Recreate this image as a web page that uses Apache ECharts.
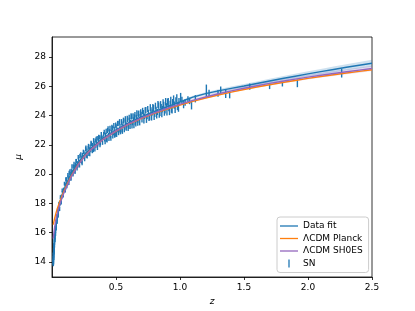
<!DOCTYPE html>
<html><head><meta charset="utf-8">
<script src="https://cdn.jsdelivr.net/npm/echarts@6/dist/echarts.min.js"></script>
<style>html,body{margin:0;padding:0;background:#fff}#c{width:415px;height:311px}</style>
</head><body><div id="c"></div>
<script>
// model grid (redshift)
const zGrid = [0.01,0.015,0.02,0.03,0.04,0.05,0.06,0.07,0.08,0.1,0.12,0.15,0.2,0.25,0.3,0.4,0.5,0.6,0.7,0.8,0.9,1.0,1.1,1.2,1.3,1.4,1.5,1.6,1.7,1.8,1.9,2.0,2.1,2.2,2.3,2.4,2.5];
const fitMu = [13.78,14.78,15.40,16.32,16.97,17.48,17.90,18.25,18.56,19.07,19.50,20.03,20.73,21.27,21.73,22.46,23.03,23.51,23.92,24.28,24.61,24.93,25.26,25.50,25.69,25.86,26.02,26.19,26.36,26.53,26.69,26.85,27.00,27.15,27.30,27.44,27.58];
const fitErr = [0.03,0.03,0.03,0.03,0.03,0.03,0.03,0.03,0.03,0.03,0.03,0.03,0.03,0.03,0.03,0.04,0.04,0.05,0.05,0.06,0.07,0.08,0.09,0.10,0.11,0.12,0.13,0.14,0.15,0.16,0.17,0.18,0.19,0.20,0.21,0.22,0.24];
const planckMu = [16.55,16.75,16.95,17.30,17.60,17.86,18.10,18.33,18.55,18.96,19.34,19.86,20.60,21.18,21.65,22.38,22.94,23.41,23.81,24.15,24.45,24.72,24.97,25.20,25.41,25.60,25.78,25.95,26.11,26.26,26.40,26.54,26.67,26.79,26.91,27.02,27.13];
const sh0esMu = [15.60,15.98,16.33,16.85,17.25,17.60,17.90,18.17,18.42,18.86,19.26,19.81,20.57,21.16,21.64,22.38,22.95,23.43,23.84,24.19,24.50,24.78,25.04,25.27,25.49,25.69,25.87,26.04,26.20,26.35,26.49,26.63,26.76,26.88,27.00,27.11,27.22];
const sh0esErr = [0.02,0.02,0.02,0.02,0.02,0.02,0.02,0.02,0.02,0.02,0.03,0.03,0.03,0.03,0.03,0.04,0.05,0.06,0.07,0.08,0.09,0.10,0.11,0.12,0.12,0.13,0.13,0.14,0.14,0.15,0.15,0.16,0.16,0.17,0.17,0.18,0.18];

// supernovae, first sample
const snZ = [
0.0101,0.0105,0.0112,0.0120,0.0128,0.0135,0.0142,0.0150,0.0158,0.0165,
0.0173,0.0181,0.0190,0.0198,0.0207,0.0215,0.0224,0.0235,0.0246,0.0258,
0.0270,0.0283,0.0296,0.0310,0.0325,0.0340,0.0356,0.0372,0.0390,0.0410,
0.0430,0.0452,0.0475,0.0500,0.0525,0.0552,0.0580,0.0610,0.0640,0.0672,
0.0705,0.0740,0.0778,0.0817,0.0858,0.0900,0.0945,
0.102,0.106,0.110,0.114,0.118,0.122,0.126,0.130,0.134,0.138,
0.142,0.146,0.150,0.154,0.158,0.162,0.166,0.170,0.174,0.178,
0.182,0.186,0.190,0.194,0.198,
0.203,0.208,0.213,0.218,0.223,0.228,0.233,0.238,0.243,0.248,
0.253,0.258,0.263,0.268,0.273,0.278,0.283,0.288,0.293,0.298,
0.303,0.308,0.313,0.318,0.323,0.328,0.333,0.338,0.343,0.348,
0.353,0.358,0.363,0.368,0.373,0.378,0.383,0.388,0.393,0.398,
0.404,0.411,0.419,0.426,0.434,0.441,0.449,0.456,0.464,0.471,
0.479,0.486,0.494,0.501,0.509,0.516,0.524,0.531,0.539,0.546,
0.554,0.561,0.569,0.576,0.584,0.591,0.599,0.606,0.614,0.621,
0.629,0.636,0.644,0.651,0.659,0.666,0.674,0.681,0.689,0.696,
0.703,0.713,0.723,0.733,0.743,0.753,0.763,0.773,0.783,0.793,
0.803,0.813,0.823,0.833,0.843,0.853,0.863,0.873,0.883,0.893,
0.903,0.913,0.923,0.933,0.943,0.955,0.968,0.980,0.992,
1.015,1.040,1.062,1.090,1.206,1.227,1.297,1.318,1.357,1.388,
1.545,1.700,1.800,1.917,2.263];
const snMu = [
13.92,14.21,14.05,14.48,14.40,14.78,14.66,14.98,14.85,15.18,
15.05,15.40,15.30,15.58,15.47,15.74,15.66,15.95,15.86,16.15,
16.08,16.36,16.27,16.55,16.47,16.78,16.70,16.96,16.90,17.18,
17.10,17.41,17.33,17.64,17.55,17.86,17.78,18.08,17.99,18.30,
18.22,18.50,18.45,18.74,18.68,18.97,18.90,
19.27,19.06,19.37,19.65,19.41,19.35,19.80,19.68,20.08,19.71,
20.01,19.72,20.24,20.06,20.20,20.05,20.52,20.24,20.48,20.22,
20.66,20.55,20.89,20.52,20.76,
20.59,21.02,20.85,21.24,20.89,21.14,20.85,21.32,21.18,21.49,
21.15,21.42,21.72,21.24,21.61,21.46,21.80,21.39,21.72,21.90,
21.64,22.07,21.78,21.99,21.65,22.11,21.99,22.29,21.93,22.17,
22.45,22.01,22.35,22.16,22.51,22.10,22.44,22.56,22.31,22.49,
22.72,22.37,22.68,22.37,22.98,22.67,22.92,22.60,22.90,23.14,
22.80,23.08,22.73,23.25,23.02,23.46,23.00,23.27,23.01,23.45,
23.29,23.62,23.20,23.50,23.35,23.71,23.27,23.69,23.54,23.91,
23.50,23.71,23.91,23.52,23.88,23.71,24.10,23.68,23.95,24.08,
23.71,24.20,23.95,24.38,23.94,24.22,23.88,24.38,24.21,24.52,
24.10,24.40,24.25,24.68,24.18,24.59,24.44,24.73,24.38,24.63,
24.92,24.51,24.78,24.43,24.90,24.71,25.02,24.63,24.95,
25.05,24.90,25.12,24.70,25.70,25.55,25.52,25.76,25.48,25.42,
25.98,25.96,26.16,26.20,26.90];
const snErr = [
0.22,0.20,0.19,0.18,0.18,0.17,0.17,0.16,0.16,0.15,
0.15,0.14,0.14,0.14,0.13,0.13,0.13,0.13,0.12,0.12,
0.12,0.12,0.12,0.11,0.11,0.11,0.11,0.11,0.11,0.11,
0.11,0.11,0.11,0.11,0.11,0.11,0.11,0.11,0.11,0.11,
0.11,0.11,0.11,0.11,0.11,0.11,0.11,
0.12,0.13,0.12,0.14,0.12,0.13,0.12,0.13,0.15,0.12,
0.13,0.14,0.12,0.13,0.12,0.14,0.13,0.12,0.13,0.14,
0.12,0.13,0.15,0.12,0.13,
0.13,0.14,0.12,0.15,0.13,0.12,0.14,0.13,0.12,0.14,
0.13,0.12,0.16,0.13,0.14,0.12,0.14,0.15,0.12,0.13,
0.14,0.15,0.12,0.13,0.15,0.13,0.12,0.14,0.13,0.14,
0.16,0.13,0.14,0.13,0.15,0.14,0.13,0.14,0.13,0.14,
0.15,0.14,0.15,0.16,0.17,0.14,0.15,0.16,0.14,0.17,
0.15,0.16,0.17,0.15,0.16,0.18,0.15,0.16,0.17,0.15,
0.16,0.18,0.16,0.15,0.17,0.16,0.18,0.16,0.17,0.18,
0.16,0.17,0.18,0.17,0.16,0.18,0.19,0.17,0.16,0.18,
0.19,0.18,0.19,0.21,0.19,0.18,0.20,0.19,0.20,0.21,
0.19,0.20,0.21,0.22,0.20,0.21,0.22,0.21,0.23,0.22,
0.24,0.22,0.23,0.24,0.23,0.25,0.24,0.26,0.25,
0.24,0.22,0.20,0.28,0.42,0.22,0.23,0.22,0.28,0.24,
0.22,0.15,0.17,0.26,0.30];

// supernovae, second sample (wider scatter)
const snZ2 = [
0.0103,0.0116,0.0124,0.0138,0.0146,0.0162,0.0177,0.0194,0.0211,0.0229,
0.0252,0.0276,0.0303,0.0332,0.0364,0.0400,0.0441,0.0488,0.0538,0.0595,
0.0656,0.0722,0.0797,0.0880,0.0970,
0.104,0.108,0.116,0.124,0.132,0.140,0.148,0.156,0.164,0.172,
0.180,0.188,0.196,0.205,0.215,0.225,0.235,0.245,0.255,0.265,
0.275,0.285,0.295,0.305,0.315,0.325,0.335,0.345,0.355,0.365,
0.375,0.385,0.395,
0.408,0.415,0.423,0.430,0.438,0.445,0.453,0.460,0.468,0.475,
0.483,0.490,0.498,0.505,0.513,0.520,0.528,0.535,0.543,0.550,
0.558,0.565,0.573,0.580,0.588,0.595,0.603,0.610,0.618,0.625,
0.633,0.640,0.648,0.655,0.663,0.670,0.678,0.685,0.693,
0.708,0.718,0.728,0.738,0.748,0.758,0.768,0.778,0.788,0.798,
0.808,0.818,0.828,0.838,0.848,0.858,0.868,0.878,0.888,0.898,
0.908,0.918,0.928,0.938,0.950,0.962,0.975,0.988,
1.005,1.028,1.075,1.120];
const snMu2 = [
14.38,13.99,14.76,14.34,15.08,14.73,15.55,15.14,15.91,15.49,
16.31,15.92,16.70,16.31,17.12,16.74,17.56,17.17,17.99,17.61,
18.43,18.05,18.89,18.54,19.35,
18.88,19.64,19.17,19.93,19.40,20.19,19.69,20.52,19.97,20.70,
20.15,20.89,20.39,21.16,20.59,21.34,20.77,21.53,21.03,21.80,
21.20,21.92,21.37,22.12,21.57,22.30,21.70,22.41,21.81,22.54,
21.99,22.72,22.15,
22.87,22.21,22.92,22.33,23.09,22.44,23.12,22.46,23.21,22.62,
23.32,22.65,23.35,22.73,23.45,22.84,23.57,22.90,23.57,22.94,
23.68,23.05,23.77,23.14,23.80,23.14,23.87,23.26,23.96,23.30,
23.97,23.34,24.06,23.45,24.16,23.50,24.15,23.53,24.24,
24.32,23.67,24.35,23.72,24.45,23.85,24.55,23.88,24.56,23.92,
24.65,24.04,24.75,24.09,24.75,24.13,24.86,24.24,24.94,24.27,
24.94,24.30,25.02,24.42,25.10,24.45,25.18,24.55,
25.25,24.75,25.00,25.15];
const snErr2 = [
0.25,0.22,0.20,0.20,0.19,0.18,0.17,0.16,0.16,0.15,
0.15,0.14,0.14,0.14,0.13,0.13,0.13,0.13,0.13,0.13,
0.13,0.13,0.13,0.13,0.13,
0.14,0.15,0.14,0.15,0.14,0.15,0.14,0.16,0.14,0.15,
0.14,0.15,0.14,0.15,0.14,0.15,0.16,0.14,0.15,0.16,
0.14,0.15,0.15,0.16,0.14,0.16,0.15,0.15,0.16,0.15,
0.15,0.16,0.15,
0.17,0.17,0.18,0.17,0.18,0.17,0.18,0.18,0.17,0.18,
0.18,0.17,0.18,0.19,0.18,0.18,0.19,0.18,0.19,0.19,
0.18,0.19,0.19,0.18,0.19,0.19,0.19,0.18,0.20,0.19,
0.19,0.20,0.19,0.20,0.20,0.19,0.20,0.20,0.20,
0.21,0.21,0.22,0.22,0.21,0.22,0.23,0.22,0.23,0.23,
0.23,0.24,0.24,0.24,0.24,0.25,0.25,0.25,0.26,0.26,
0.26,0.27,0.27,0.27,0.28,0.28,0.28,0.29,
0.30,0.25,0.22,0.25];

const xTicks = [0.5,1.0,1.5,2.0,2.5];
const yTicks = [14,16,18,20,22,24,26,28];
const seriesNames = ['Data fit','ΛCDM Planck','ΛCDM SH0ES','SN'];

const C_BLUE = '#1f77b4', C_ORANGE = '#ff7f0e', C_PURPLE = '#9467bd';
const FONT = 'DejaVu Sans';

const chart = echarts.init(document.getElementById('c'), null, {renderer:'canvas'});

function pairs(xs, ys) { return xs.map((x, i) => [x, ys[i]]); }
function band(name, mu, err, fill) {
  return {
    type: 'custom', name: name, silent: true, z: 1, clip: true,
    encode: {x: 0, y: 1},
    data: [[zGrid[0], mu[0]]],
    renderItem: function (params, api) {
      const pts = [];
      for (let i = 0; i < zGrid.length; i++) pts.push(api.coord([zGrid[i], mu[i] + err[i]]));
      for (let i = zGrid.length - 1; i >= 0; i--) pts.push(api.coord([zGrid[i], mu[i] - err[i]]));
      return {type: 'polygon', shape: {points: pts}, style: {fill: fill, stroke: null}};
    }
  };
}
function line(name, mu, color) {
  return {
    type: 'line', name: name, data: pairs(zGrid, mu), symbol: 'none', z: 4,
    lineStyle: {color: color, width: 1.4}, itemStyle: {color: color}, silent: true
  };
}

const snAll = snZ.map((z, i) => [z, snMu[i], snErr[i]])
  .concat(snZ2.map((z, i) => [z, snMu2[i], snErr2[i]]))
  .sort((a, b) => a[0] - b[0]);

const lineIcon = 'path://M0,0M18,10M0,4.35L18,4.35L18,5.65L0,5.65Z';
const barIcon = 'path://M0,0M18,10M8.35,1L9.65,1L9.65,9L8.35,9Z';

chart.setOption({
  animation: false,
  backgroundColor: '#ffffff',
  grid: {left: 52, right: 43, top: 37, bottom: 34, show: true, borderColor: '#000', borderWidth: 0.8},
  xAxis: {
    type: 'value', min: 0, max: 2.5,
    name: 'z', nameLocation: 'middle', nameGap: 10,
    nameTextStyle: {fontFamily: FONT, fontSize: 9, fontStyle: 'italic', color: '#000'},
    axisLine: {show: true, lineStyle: {color: '#000', width: 0.8}},
    axisTick: {show: true, length: 3, lineStyle: {color: '#000', width: 0.8}, customValues: xTicks},
    axisLabel: {fontFamily: FONT, fontSize: 9, color: '#000', margin: 6, customValues: xTicks,
      formatter: v => Number(v).toFixed(1)},
    splitLine: {show: false}
  },
  yAxis: {
    type: 'value', min: 12.97, max: 29.37,
    name: 'μ', nameLocation: 'middle', nameGap: 18, nameRotate: 90,
    nameTextStyle: {fontFamily: FONT, fontSize: 9, fontStyle: 'italic', color: '#000'},
    axisLine: {show: true, lineStyle: {color: '#000', width: 0.8}},
    axisTick: {show: true, length: 3, lineStyle: {color: '#000', width: 0.8}, customValues: yTicks},
    axisLabel: {fontFamily: FONT, fontSize: 9, color: '#000', margin: 6, customValues: yTicks},
    splitLine: {show: false}
  },
  legend: {
    orient: 'vertical', left: 277, top: 217,
    itemWidth: 18, itemHeight: 10, itemGap: 2.5,
    padding: [4, 6, 4, 3],
    backgroundColor: 'rgba(255,255,255,0.8)', borderColor: '#cccccc', borderWidth: 1, borderRadius: 3,
    textStyle: {fontFamily: FONT, fontSize: 9, color: '#000'},
    selectedMode: false,
    data: [
      {name: seriesNames[0], icon: lineIcon, itemStyle: {color: C_BLUE}},
      {name: seriesNames[1], icon: lineIcon, itemStyle: {color: C_ORANGE}},
      {name: seriesNames[2], icon: lineIcon, itemStyle: {color: C_PURPLE}},
      {name: seriesNames[3], icon: barIcon, itemStyle: {color: C_BLUE}}
    ]
  },
  series: [
    band('sh0esBand', sh0esMu, sh0esErr, 'rgba(148,103,189,0.22)'),
    band('fitBand', fitMu, fitErr, 'rgba(31,119,180,0.22)'),
    {
      type: 'custom', name: seriesNames[3], z: 2, clip: true, silent: true,
      itemStyle: {color: C_BLUE},
      encode: {x: 0, y: 1},
      data: snAll,
      renderItem: function (params, api) {
        const lo = api.coord([api.value(0), api.value(1) - api.value(2)]);
        const hi = api.coord([api.value(0), api.value(1) + api.value(2)]);
        return {type: 'line', shape: {x1: lo[0], y1: lo[1], x2: hi[0], y2: hi[1]},
          style: {stroke: C_BLUE, lineWidth: 1.4}};
      }
    },
    line(seriesNames[0], fitMu, C_BLUE),
    line(seriesNames[1], planckMu, C_ORANGE),
    line(seriesNames[2], sh0esMu, C_PURPLE)
  ]
});
</script>
</body></html>
